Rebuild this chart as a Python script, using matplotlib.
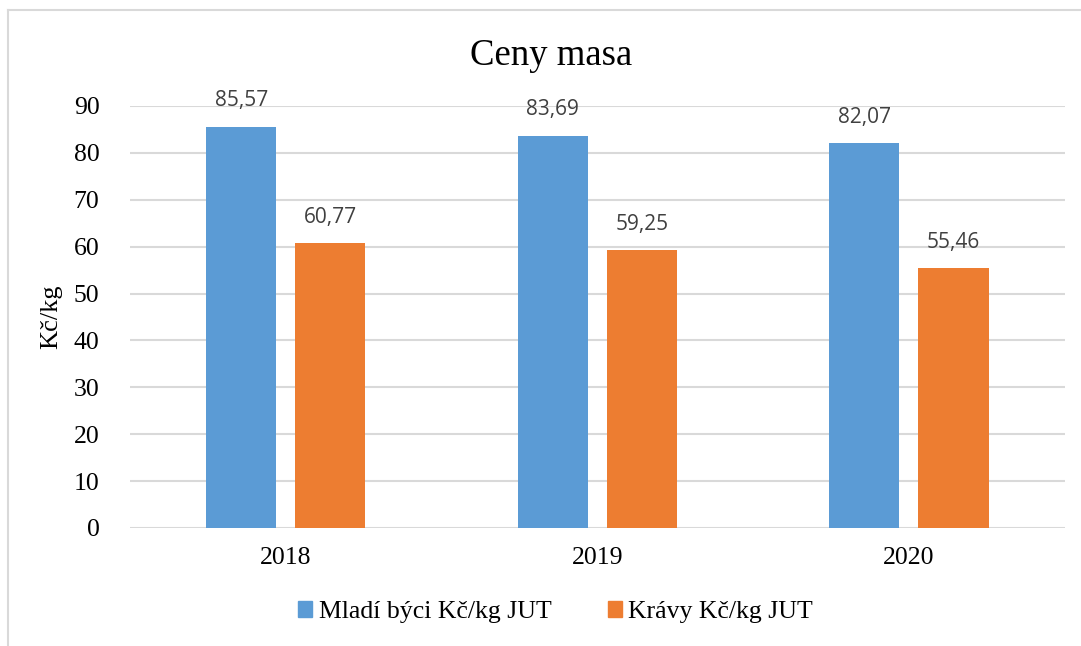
import matplotlib.pyplot as plt
import numpy as np
from matplotlib.lines import Line2D

years = ["2018", "2019", "2020"]
series_names = ["Mladí býci Kč/kg JUT", "Krávy Kč/kg JUT"]
bulls = [85.57, 83.69, 82.07]
cows = [60.77, 59.25, 55.46]
colors = ["#5B9BD5", "#ED7D31"]

serif = "Liberation Serif"

fig = plt.figure(figsize=(10.81, 6.46), dpi=100)
ax = fig.add_axes([0.1203, 0.1827, 0.8647, 0.6533])

x = np.arange(len(years))
width = 0.225
offset = 0.143
for vals, off, col in [(bulls, -offset, colors[0]), (cows, offset, colors[1])]:
    bars = ax.bar(x + off, vals, width, color=col, zorder=3)
    for b, v in zip(bars, vals):
        ax.annotate(f"{v:.2f}".replace(".", ","), (b.get_x() + b.get_width() / 2, v),
                    xytext=(0, 11), textcoords="offset points", ha="center", va="bottom",
                    fontsize=15, color="#404040", family="Open Sans")

ax.set_xlim(-0.5, 2.5)
ax.set_ylim(0, 90)
ax.set_yticks(range(0, 91, 10))
ax.set_xticks(x)
ax.set_xticklabels(years)
ax.yaxis.grid(True, color="#d9d9d9", linewidth=1.5, zorder=0)
ax.set_axisbelow(True)
for s in ax.spines.values():
    s.set_visible(False)
ax.tick_params(axis="both", length=0, labelsize=18.5)
ax.tick_params(axis="y", pad=22)
ax.tick_params(axis="x", pad=14)
for lbl in ax.get_xticklabels() + ax.get_yticklabels():
    lbl.set_family(serif)
ax.set_ylabel("Kč/kg", family=serif, fontsize=19, labelpad=8)

fig.text(0.51, 0.913, "Ceny masa", ha="center", va="center", family=serif, fontsize=26.5)

handles = [plt.Rectangle((0, 0), 1, 1, color=c) for c in colors]
fig.legend(handles, series_names, loc="center", bbox_to_anchor=(0.514, 0.0526), ncol=2,
           frameon=False, prop={"family": serif, "size": 18.5}, handlelength=0.55,
           handleheight=0.55, handletextpad=0.25, columnspacing=2.2)

# chart border (top and left only visible)
fig.add_artist(Line2D([8 / 1081, 1.0], [1 - 10 / 646, 1 - 10 / 646], color="#d9d9d9", linewidth=1.5,
                      transform=fig.transFigure))
fig.add_artist(Line2D([8 / 1081, 8 / 1081], [0.0, 1 - 10 / 646], color="#d9d9d9", linewidth=1.5,
                      transform=fig.transFigure))

plt.savefig("out.png")
